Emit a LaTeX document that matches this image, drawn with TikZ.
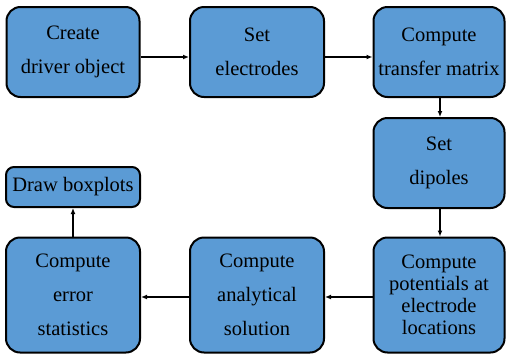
\documentclass[tikz,border=0pt]{standalone}
\usepackage{fontspec}
\setmainfont{Liberation Serif}
\usetikzlibrary{arrows.meta}
\definecolor{boxblue}{HTML}{5B9BD5}
\tikzset{
  stepbox/.style={draw=black, line width=2pt, fill=boxblue, rounded corners=14pt,
    inner sep=0pt, align=center, font=\fontsize{20.5}{34}\selectfont},
  conn/.style={line width=1.6pt, -{Latex[length=6pt,width=5pt]}}
}
\begin{document}
\begin{tikzpicture}[x=1pt,y=-1pt]
\useasboundingbox (0,0) rectangle (507,354);
\node[stepbox, minimum width=133pt, minimum height=90pt] (create) at (73,52) {Create\\driver object};
\node[stepbox, minimum width=134pt, minimum height=90pt] (elec) at (257,52) {Set\\electrodes};
\node[stepbox, minimum width=131pt, minimum height=90pt] (transfer) at (439,52) {Compute\\transfer matrix};
\node[stepbox, minimum width=131pt, minimum height=90pt] (dipoles) at (439,163) {Set\\dipoles};
\node[stepbox, minimum width=131pt, minimum height=115pt, font=\fontsize{20.5}{22}\selectfont] (pot) at (439,295) {Compute\\potentials at\\electrode\\locations};
\node[stepbox, minimum width=134pt, minimum height=115pt] (anal) at (257,295) {Compute\\analytical\\solution};
\node[stepbox, minimum width=134pt, minimum height=115pt] (err) at (73,295) {Compute\\error\\statistics};
\node[stepbox, minimum width=134pt, minimum height=40pt, rounded corners=8pt] (box) at (73,187) {Draw boxplots};
\draw[conn] (create.east |- 0,57) -- (elec.west |- 0,57);
\draw[conn] (elec.east |- 0,57) -- (transfer.west |- 0,57);
\draw[conn] (transfer.south -| 440,0) -- (dipoles.north -| 440,0);
\draw[conn] (dipoles.south -| 440,0) -- (pot.north -| 440,0);
\draw[conn] (pot.west |- 0,297) -- (anal.east |- 0,297);
\draw[conn] (anal.west |- 0,297) -- (err.east |- 0,297);
\draw[conn] (err.north) -- (box.south);
\end{tikzpicture}
\end{document}
